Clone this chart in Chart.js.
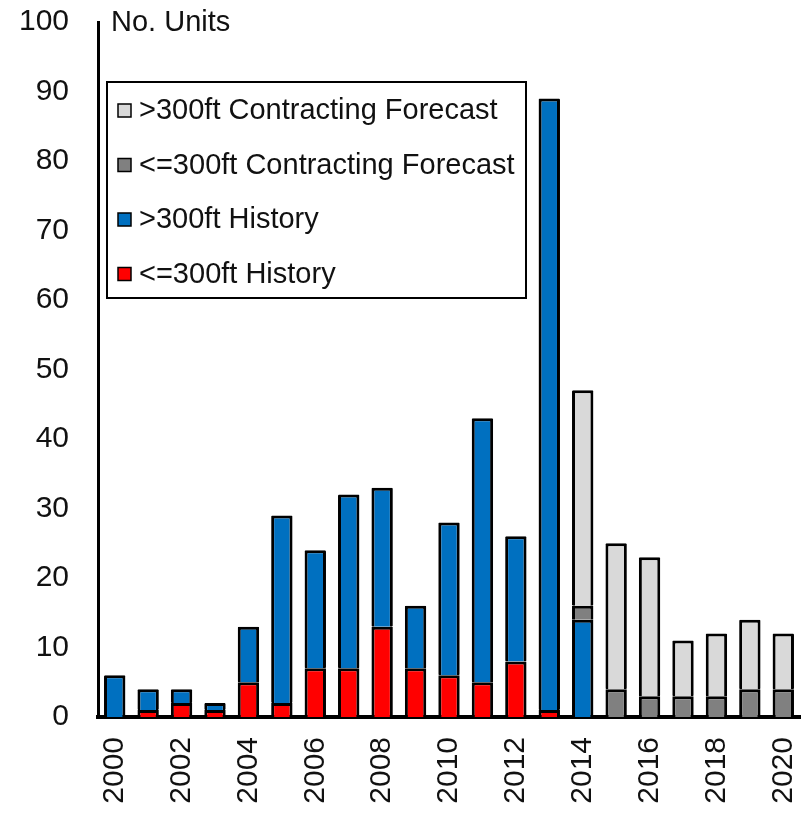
<!DOCTYPE html>
<html>
<head>
<meta charset="utf-8">
<script src="https://cdn.jsdelivr.net/npm/chart.js@4"></script>
<style>
  body { margin: 0; background: #fff; }
  #wrap { width: 803px; height: 816px; position: relative; }
</style>
</head>
<body>
<div id="wrap"><canvas id="myChart"></canvas></div>
<script>
'use strict';

// chart data
var years = ['2000', '2001', '2002', '2003', '2004', '2005', '2006', '2007', '2008', '2009', '2010',
  '2011', '2012', '2013', '2014', '2015', '2016', '2017', '2018', '2019', '2020'];
var smallHistory = [0, 1, 2, 1, 5, 2, 7, 7, 13, 7, 6, 5, 8, 1, 0, 0, 0, 0, 0, 0, 0];
var largeHistory = [6, 3, 2, 1, 8, 27, 17, 25, 20, 9, 22, 38, 18, 88, 14, 0, 0, 0, 0, 0, 0];
var smallForecast = [0, 0, 0, 0, 0, 0, 0, 0, 0, 0, 0, 0, 0, 0, 2, 4, 3, 3, 3, 4, 4];
var largeForecast = [0, 0, 0, 0, 0, 0, 0, 0, 0, 0, 0, 0, 0, 0, 31, 21, 20, 8, 9, 10, 8];
var yTicks = [0, 10, 20, 30, 40, 50, 60, 70, 80, 90, 100];

var FONT = '"Liberation Sans", Arial, sans-serif';

// legend drawn in a box inside the plot, like the original
var boxLegend = {
  id: 'boxLegend',
  afterDraw: function (chart) {
    var ctx = chart.ctx;
    var area = chart.chartArea;
    var x0 = area.left + 9;
    var y0 = area.top + 60;
    var rowH = 54.5;
    var items = chart.data.datasets.slice().reverse();

    ctx.save();
    ctx.font = '29px ' + FONT;
    ctx.lineWidth = 2;
    ctx.strokeStyle = '#000';
    ctx.fillStyle = '#fff';
    ctx.fillRect(x0, y0, 419, 216);
    ctx.strokeRect(x0, y0, 419, 216);

    for (var i = 0; i < items.length; i++) {
      var cy = y0 + 28 + i * rowH;
      ctx.fillStyle = items[i].backgroundColor;
      ctx.fillRect(x0 + 11, cy - 6, 13, 13);
      ctx.lineWidth = 1.5;
      ctx.strokeRect(x0 + 11, cy - 6, 13, 13);
      ctx.fillStyle = '#111';
      ctx.textBaseline = 'middle';
      ctx.textAlign = 'left';
      ctx.fillText(items[i].label, x0 + 32, cy + 1);
    }

    // axis caption
    ctx.font = '29px ' + FONT;
    ctx.fillText('No. Units', area.left + 13, area.top + 1);
    ctx.restore();
  }
};

var ctx = document.getElementById('myChart').getContext('2d');
var chart = new Chart(ctx, {
  type: 'bar',
  data: {
    labels: years,
    datasets: [
      { label: '<=300ft History', data: smallHistory, backgroundColor: '#FF0000' },
      { label: '>300ft History', data: largeHistory, backgroundColor: '#0070C0' },
      { label: '<=300ft Contracting Forecast', data: smallForecast, backgroundColor: '#808080' },
      { label: '>300ft Contracting Forecast', data: largeForecast, backgroundColor: '#D9D9D9' }
    ]
  },
  options: {
    responsive: true,
    maintainAspectRatio: false,
    animation: false,
    layout: { padding: { top: 22, right: 3, bottom: 0, left: 0 } },
    datasets: {
      bar: {
        borderColor: '#000',
        // no bottom edge so stacked joints stay one line thick
        borderWidth: { top: 3, left: 3, right: 3, bottom: 0 },
        borderRadius: 1,
        borderSkipped: false,
        barPercentage: 0.64,
        categoryPercentage: 1
      }
    },
    plugins: {
      legend: { display: false },
      tooltip: { enabled: false }
    },
    scales: {
      x: {
        stacked: true,
        grid: { display: false, drawTicks: false },
        border: { display: true, color: '#000', width: 4 },
        afterFit: function (scale) {
          scale.height = 99;
          scale.paddingLeft = 0;
          scale.paddingRight = 0;
        },
        ticks: {
          autoSkip: false,
          minRotation: 90,
          maxRotation: 90,
          padding: 20,
          color: '#111',
          font: { family: FONT, size: 30 },
          callback: function (value, index) {
            return index % 2 === 0 ? years[index] : '';
          }
        }
      },
      y: {
        stacked: true,
        min: 0,
        max: 100,
        afterBuildTicks: function (axis) {
          axis.ticks = yTicks.map(function (v) { return { value: v }; });
        },
        afterFit: function (scale) {
          scale.width = 98;
          scale.paddingTop = 0;
          scale.paddingBottom = 0;
        },
        grid: { display: false, drawTicks: false },
        border: { display: true, color: '#000', width: 3 },
        ticks: {
          padding: 29,
          color: '#111',
          font: { family: FONT, size: 30 }
        }
      }
    }
  },
  plugins: [boxLegend]
});
</script>
</body>
</html>
